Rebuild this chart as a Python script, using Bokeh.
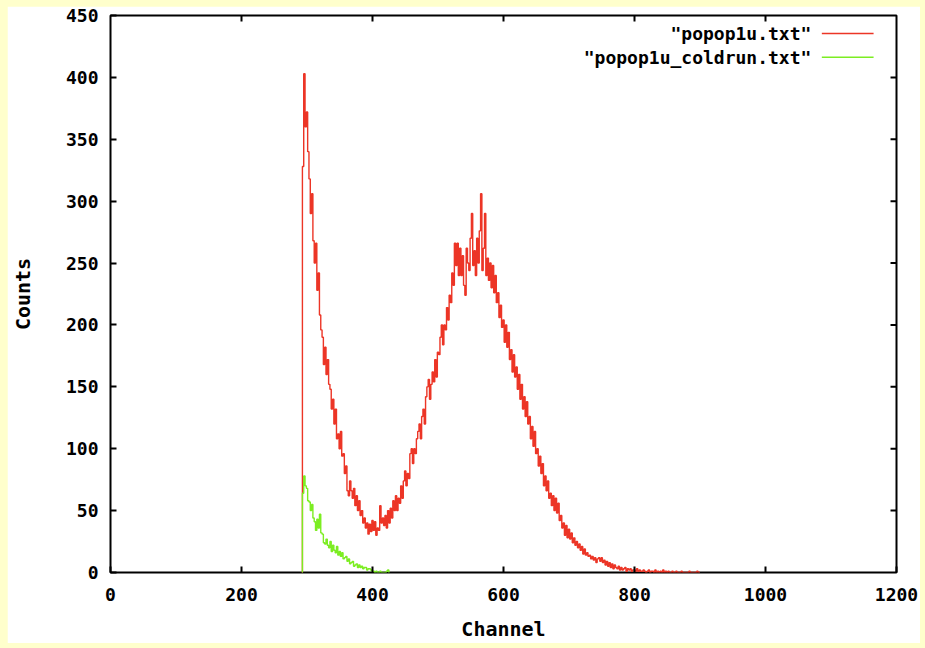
from bokeh.plotting import figure
from bokeh.models import FixedTicker, Label
from bokeh.embed import file_html
from bokeh.resources import INLINE

# ---------------- data ----------------
x_ticks = [0, 200, 400, 600, 800, 1000, 1200]
y_ticks = [0, 50, 100, 150, 200, 250, 300, 350, 400, 450]

red_start = 292   # first channel of red series, step 2 channels
red_counts = [
    0, 328, 403, 360, 372, 340, 318, 290, 306, 268,
    250, 266, 228, 242, 208, 196, 190, 168, 182, 160,
    172, 152, 148, 132, 140, 120, 132, 108, 112, 100,
    114, 94, 96, 80, 86, 66, 62, 74, 66, 60,
    68, 54, 62, 50, 58, 46, 50, 40, 44, 36,
    40, 31, 39, 33, 42, 34, 41, 30, 36, 34,
    54, 40, 44, 38, 46, 36, 50, 40, 52, 44,
    58, 50, 62, 50, 60, 56, 70, 60, 74, 82,
    70, 80, 76, 96, 100, 88, 100, 96, 108, 114,
    120, 108, 126, 132, 120, 142, 150, 156, 140, 152,
    162, 154, 172, 158, 178, 176, 190, 200, 184, 200,
    196, 214, 204, 224, 218, 242, 232, 266, 248, 266,
    240, 262, 240, 256, 232, 224, 262, 250, 244, 270,
    290, 248, 260, 240, 270, 250, 276, 306, 244, 262,
    290, 240, 254, 236, 250, 230, 248, 226, 240, 218,
    226, 206, 216, 198, 204, 186, 200, 182, 194, 172,
    180, 162, 176, 158, 166, 148, 160, 140, 152, 132,
    142, 126, 138, 120, 126, 108, 118, 102, 114, 96,
    100, 86, 94, 80, 88, 70, 78, 66, 74, 60,
    64, 54, 62, 50, 60, 48, 56, 42, 46, 36,
    40, 30, 38, 28, 35, 27, 32, 24, 28, 22,
    25, 20, 23, 18, 21, 15, 19, 14, 16, 13,
    14, 11, 13, 10, 12, 8, 11, 12, 9, 12,
    8, 10, 6, 9, 5, 8, 4, 7, 3, 6,
    4, 3, 5, 2, 4, 2, 3, 4, 1, 3,
    2, 3, 1, 2, 2, 1, 3, 1, 2, 1,
    1, 2, 1, 0, 1, 2, 0, 1, 1, 0,
    2, 0, 1, 0, 1, 0, 2, 0, 1, 0,
    1, 0, 0, 1, 0, 0, 1, 0, 0, 0,
    1, 0, 0, 0, 0, 0, 1, 0, 0, 0,
    0, 0, 1, 0, 0,
]
red_channels = [red_start + 2 * i for i in range(len(red_counts))]

green_start = 292
green_counts = [
    0, 64, 78, 70, 68, 58, 57, 50, 55, 44,
    41, 34, 43, 36, 47, 32, 31, 24, 23, 27,
    22, 20, 25, 17, 22, 18, 16, 21, 14, 17,
    13, 16, 11, 12, 13, 9, 11, 7, 8, 9,
    5, 6, 7, 4, 6, 4, 5, 3, 4, 4,
    2, 3, 3, 2, 1, 1, 0, 1, 0, 0,
    1, 0, 0, 0, 0, 1, 2, 0,
]
green_channels = [green_start + 2 * i for i in range(len(green_counts))]

series_names = ['"popop1u.txt"', '"popop1u_coldrun.txt"']
series_colors = ["#ec3526", "#7ced22"]

# ---------------- figure ----------------
FONT = "DejaVu Sans Mono"

p = figure(width=913, height=637, x_range=(0, 1200), y_range=(0, 450),
           output_backend="svg", toolbar_location=None,
           min_border_left=100, min_border_right=24,
           min_border_top=9, min_border_bottom=68)
p.background_fill_color = "white"
p.border_fill_color = "white"
p.outline_line_color = "black"
p.outline_line_width = 2
p.grid.visible = False

p.xaxis.ticker = FixedTicker(ticks=x_ticks)
p.yaxis.ticker = FixedTicker(ticks=y_ticks)
for ax in (p.xaxis[0], p.yaxis[0]):
    ax.axis_line_color = None
    ax.major_tick_in = 6
    ax.major_tick_out = 0
    ax.major_tick_line_color = "black"
    ax.major_tick_line_width = 2
    ax.minor_tick_line_color = None
    ax.major_label_text_font = FONT
    ax.major_label_text_font_size = "18px"
    ax.major_label_text_font_style = "bold"
    ax.major_label_text_color = "black"
    ax.axis_label_text_font = FONT
    ax.axis_label_text_font_size = "20px"
    ax.axis_label_text_font_style = "bold"
    ax.axis_label_text_color = "black"

p.xaxis.axis_label = "Channel"
p.yaxis.axis_label = "Counts"
p.xaxis.major_label_standoff = 15
p.xaxis.axis_label_standoff = 13
p.yaxis.major_label_standoff = 12
p.yaxis.axis_label_standoff = 28

# mirrored inward ticks on top and right sides
xmax, ymax = x_ticks[-1], y_ticks[-1]
tick_dx = 6 / (789 / xmax)
tick_dy = 6 / (560 / ymax)
top_x = x_ticks[1:-1]
right_y = y_ticks[1:-1]
p.segment(top_x, [ymax] * len(top_x), top_x, [ymax - tick_dy] * len(top_x),
          line_color="black", line_width=2)
p.segment([xmax] * len(right_y), right_y, [xmax - tick_dx] * len(right_y), right_y,
          line_color="black", line_width=2)

p.step(red_channels, red_counts, mode="center", line_color=series_colors[0], line_width=1.4)
p.step(green_channels, green_counts, mode="center", line_color=series_colors[1], line_width=1.4)

# legend (top right, text right-aligned, sample line to the right)
leg_text_x = 1070
leg_line_x0, leg_line_x1 = 1086, 1165
leg_rows_y = [435.5, 416.2]
for name, color, yy in zip(series_names, series_colors, leg_rows_y):
    p.add_layout(Label(x=leg_text_x, y=yy, text=name, text_align="right",
                       text_baseline="middle", text_font=FONT, text_font_style="bold",
                       text_font_size="18px", text_color="black"))
    p.line([leg_line_x0, leg_line_x1], [yy, yy], line_color=color, line_width=1.5)

html = file_html(p, INLINE)
html = html.replace("</head>",
                    "<style>html,body{background:#ffffcc !important;}"
                    "body{margin:6px 0 0 7px !important;}</style></head>", 1)
open("out.html", "w").write(html)
